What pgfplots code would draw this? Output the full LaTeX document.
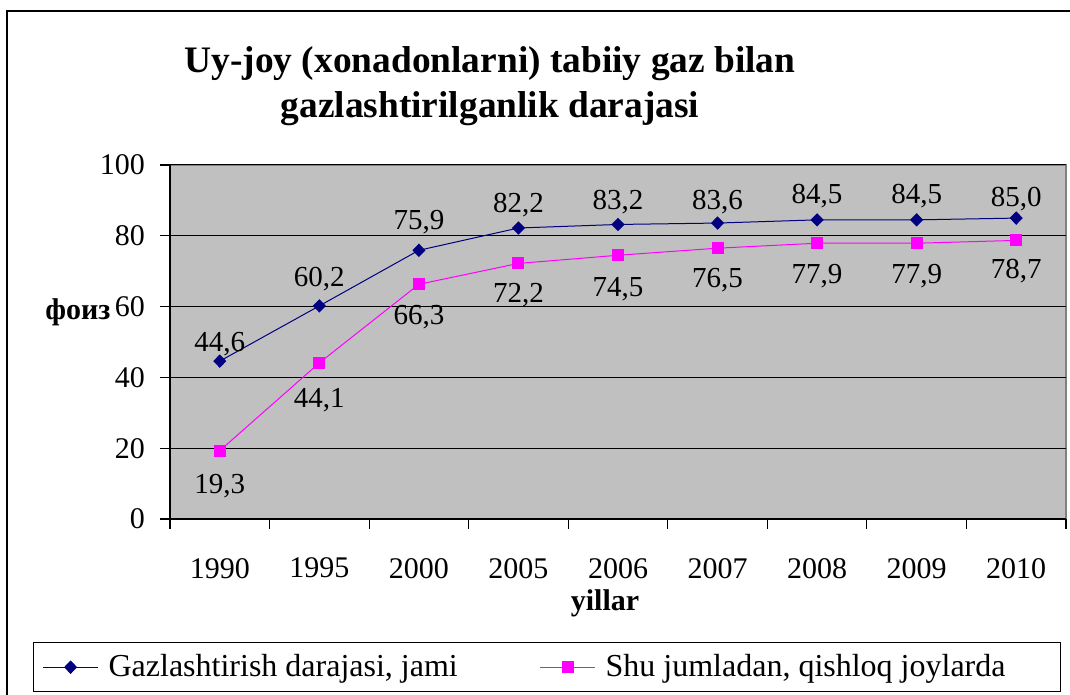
\documentclass[border=0pt]{standalone}
\usepackage{fontspec}
\setmainfont{Liberation Serif}
\usepackage{pgfplots}
\usepackage{pgfplotstable}
\pgfplotsset{compat=1.18}
\definecolor{navyc}{HTML}{000080}
\definecolor{pinkc}{HTML}{FF00FF}
\definecolor{plotgray}{HTML}{C0C0C0}
\pgfplotstableread{
x y off
0 44.6 8.5
1 60.2 13.5
2 75.9 14
3 82.2 11.5
4 83.2 11
5 83.6 10.5
6 84.5 12
7 84.5 12
8 85.0 9.5
}\jami
\pgfplotstableread{
x y off
0 19.3 -17.5
1 44.1 -18.5
2 66.3 -16.5
3 72.2 -16
4 74.5 -17
5 76.5 -16
6 77.9 -16.5
7 77.9 -16.5
8 78.7 -15.5
}\qishloq
\begin{document}
\begin{tikzpicture}
\useasboundingbox (0,0) rectangle (535pt,347.5pt);
\draw[line width=0.7pt] (3.5pt,0) -- (3.5pt,342pt) -- (535pt,342pt);
\begin{axis}[
 at={(85pt,88pt)}, anchor=south west,
 scale only axis, width=448pt, height=177pt,
 xmin=-0.5, xmax=8.5, ymin=0, ymax=100,
 xtick={0,...,8}, xticklabels={1990,1995,2000,2005,2006,2007,2008,2009,2010},
 minor xtick={-0.5,0.5,...,8.5},
 ytick={0,20,...,100},
 axis x line*=bottom, axis y line*=left,
 axis line style={black, line width=0.6pt, -},
 axis background/.style={fill=plotgray, draw=gray, line width=0.6pt},
 ymajorgrids, grid style={black, line width=0.5pt},
 tick align=outside,
 major tick length=5pt, minor tick length=5pt,
 major x tick style={draw=none},
 tick style={black, line width=0.6pt},
 /pgf/number format/assume math mode=true,
 tick label style={font=\fontsize{15}{18}\selectfont},
 xticklabel style={yshift=-11pt},
 yticklabel style={xshift=-4pt},
 legend style={at={(-0.1529,-0.3475)}, anchor=north west, draw=black, line width=0.6pt, fill=white,
   font=\fontsize{16}{19}\selectfont, inner xsep=4.5pt, inner ysep=4pt},
 legend columns=2, legend cell align=left,
 legend image code/.code={\draw[mark repeat=2,mark phase=2,#1] plot coordinates {(0pt,0pt)(13.75pt,0pt)(27.5pt,0pt)};},
]
\addplot[navyc, line width=0.5pt, mark=diamond*, mark size=3pt, mark options={fill=navyc, xscale=1.3},
  nodes near coords={\pgfmathprintnumber[fixed,fixed zerofill,precision=1,use comma,assume math mode=true]{\pgfplotspointmeta}},
  visualization depends on={\thisrow{off}\as\labeloff},
  every node near coord/.style={font=\fontsize{14.5}{17}\selectfont, anchor=center, yshift=\labeloff pt, text=black}]
 table[x=x, y=y] {\jami};
\addlegendentry{\makebox[216.5pt][l]{\hspace{3pt}Gazlashtirish darajasi, jami}}
\addplot[pinkc, line width=0.5pt, mark=square*, mark size=2.75pt, mark options={fill=pinkc},
  nodes near coords={\pgfmathprintnumber[fixed,fixed zerofill,precision=1,use comma,assume math mode=true]{\pgfplotspointmeta}},
  visualization depends on={\thisrow{off}\as\labeloff},
  every node near coord/.style={font=\fontsize{14.5}{17}\selectfont, anchor=center, yshift=\labeloff pt, text=black}]
 table[x=x, y=y] {\qishloq};
\addlegendentry{\makebox[224pt][l]{\hspace{3pt}Shu jumladan, qishloq joylarda}}
\end{axis}
\node[anchor=base, font=\bfseries\fontsize{18.7}{22}\selectfont] at (245pt,311pt) {Uy-joy (xonadonlarni) tabiiy gaz bilan};
\node[anchor=base, font=\bfseries\fontsize{18.7}{22}\selectfont] at (245pt,288.5pt) {gazlashtirilganlik darajasi};
\node[anchor=base, font=\bfseries\fontsize{15}{18}\selectfont] at (39pt,187.5pt) {фоиз};
\node[anchor=base, font=\bfseries\fontsize{15}{18}\selectfont] at (302.5pt,42pt) {yillar};
\end{tikzpicture}
\end{document}
